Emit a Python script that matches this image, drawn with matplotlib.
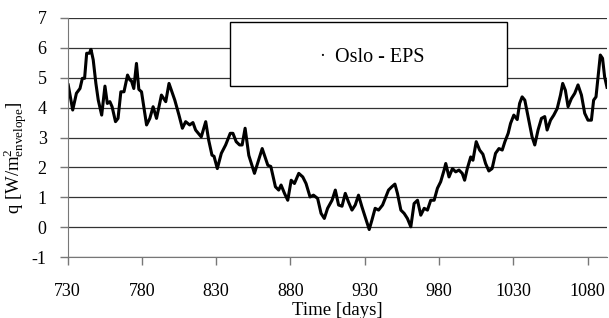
import matplotlib
matplotlib.use("Agg")
import matplotlib.pyplot as plt
from matplotlib.patches import Rectangle

plt.rcParams['font.family'] = ['Liberation Serif', 'DejaVu Serif']
plt.rcParams['mathtext.fontset'] = 'custom'
plt.rcParams['mathtext.rm'] = 'Liberation Serif'
plt.rcParams['mathtext.it'] = 'Liberation Serif:italic'
plt.rcParams['axes.unicode_minus'] = False

# heat flux (day, q)
days = [730.5, 733.5, 736, 738.4, 740, 741.5, 742.9, 744.7, 745.8, 747.3,
        749.1, 750.7, 753, 755.2, 756.8, 758.5, 760, 762.3, 764, 765.9,
        768, 770.4, 772, 773, 774.6, 776.4, 778, 779.8, 783.2, 785.4,
        787.6, 789.9, 793.2, 796.1, 798.3, 802.2, 805, 807.3, 809.5, 812.2,
        814.4, 816.2, 820, 823, 825, 827.2, 828.6, 830.8, 833.5, 836.4,
        839.5, 841.3, 843.5, 845.8, 847.5, 849.5, 852, 855.8, 858.3, 861,
        862.5, 864.8, 866.8, 869.9, 872.1, 873.7, 876, 878.2, 880.5, 882.7,
        885.6, 888.3, 890.5, 893.2, 895.5, 898.3, 900.6, 902.8, 905, 908,
        910.2, 912.4, 914.7, 916.9, 919, 921.4, 923.6, 925.8, 928.1, 930.3,
        933, 934.8, 937, 939.3, 942, 944.2, 946, 948.2, 950.3, 952,
        954.3, 956.5, 958.7, 961, 963.2, 965.5, 967.7, 970, 972.2, 974.4,
        976.7, 978.9, 981.1, 983.4, 984.5, 986.7, 989, 991.2, 993.4, 995.6,
        997.2, 999, 1001.3, 1002.8, 1005, 1007.3, 1009.5, 1011.3, 1013.5, 1015.7,
        1018, 1020.3, 1022.5, 1024.3, 1026.5, 1028.1, 1030.3, 1032.6, 1034.2, 1035.9,
        1037.7, 1040.4, 1042.6, 1044.4, 1046.6, 1048.9, 1051.1, 1052.7, 1055, 1057.2,
        1059.5, 1061.7, 1063.2, 1065, 1066.8, 1069, 1071.3, 1073.5, 1075.8, 1078,
        1080.2, 1082.5, 1084, 1085.6, 1088.5, 1090, 1091.4, 1093]
q = [4.76, 3.92, 4.48, 4.64, 4.98, 4.98, 5.82, 5.82, 5.95, 5.6,
     4.81, 4.25, 3.75, 4.72, 4.14, 4.2, 4.03, 3.53, 3.64, 4.53,
     4.53, 5.09, 4.92, 4.9, 4.64, 5.48, 4.61, 4.53, 3.42, 3.64,
     4.03, 3.64, 4.42, 4.2, 4.81, 4.25, 3.75, 3.31, 3.53, 3.42,
     3.5, 3.25, 3.02, 3.53, 2.91, 2.41, 2.37, 1.96, 2.47, 2.75,
     3.14, 3.14, 2.86, 2.75, 2.75, 3.31, 2.4, 1.8, 2.2, 2.63,
     2.41, 2.07, 2.03, 1.35, 1.24, 1.41, 1.13, 0.9, 1.57, 1.46,
     1.8, 1.68, 1.46, 1.01, 1.07, 0.96, 0.46, 0.29, 0.63, 0.9,
     1.24, 0.74, 0.7, 1.13, 0.85, 0.57, 0.74, 1.07, 0.68, 0.34,
     -0.08, 0.23, 0.63, 0.57, 0.74, 1.01, 1.24, 1.35, 1.44, 1.13,
     0.57, 0.46, 0.29, 0.01, 0.79, 0.9, 0.4, 0.63, 0.57, 0.9,
     0.9, 1.3, 1.52, 1.91, 2.13, 1.68, 1.96, 1.85, 1.91, 1.8,
     1.57, 1.96, 2.35, 2.24, 2.86, 2.58, 2.44, 2.13, 1.88, 1.96,
     2.47, 2.63, 2.58, 2.86, 3.14, 3.47, 3.75, 3.6, 4.14, 4.36,
     4.25, 3.58, 3.02, 2.75, 3.25, 3.64, 3.7, 3.25, 3.58, 3.75,
     3.97, 4.42, 4.81, 4.58, 4.03, 4.3, 4.48, 4.76, 4.42, 3.81,
     3.58, 3.58, 4.25, 4.36, 5.76, 5.65, 5.03, 4.68]

xticks = [730, 780, 830, 880, 930, 980, 1030, 1080]
yticks = [-1, 0, 1, 2, 3, 4, 5, 6, 7]
series_name = 'Oslo - EPS'

W, H = 609, 318
fig = plt.figure(figsize=(W / 100, H / 100), dpi=100)
ax = fig.add_axes([67.5 / W, 61 / H, (607 - 67.5) / W, 239 / H])

ax.plot(days, q, color='black', lw=2.2, solid_joinstyle='round')

ax.set_xlim(730, 1093)
ax.set_ylim(-1, 7)
ax.set_xticks(xticks)
ax.set_yticks(yticks)
ax.grid(axis='y', color='#333333', lw=0.9)
ax.set_axisbelow(True)
for s in ['top', 'right']:
    ax.spines[s].set_visible(False)
ax.spines['left'].set_color('#777777')
ax.spines['bottom'].set_color('#777777')
ax.tick_params(axis='both', colors='#777777', labelcolor='black', labelsize=13, length=6, width=1)
ax.tick_params(axis='x', pad=13)
ax.tick_params(axis='y', pad=9)

ax.set_xlabel('Time [days]', fontsize=13.5)
ax.xaxis.set_label_coords(0.5, -0.19)
fig.text(15 / W, 1 - 158 / H, r'q [W/m$^{2}_{\mathrm{envelope}}$]', fontsize=13.5,
         rotation=90, ha='center', va='center')

# legend box
fig.patches.append(Rectangle((230 / W, 1 - 86 / H), 277 / W, 64 / H,
                             transform=fig.transFigure, facecolor='white',
                             edgecolor='black', lw=1.0, zorder=5))
fig.text(322 / W, 1 - 57 / H, '·', fontsize=13, ha='center', va='center', zorder=6)
fig.text(335 / W, 1 - 57 / H, series_name, fontsize=14.5, ha='left', va='center', zorder=6)

fig.savefig('out.png', dpi=100)
